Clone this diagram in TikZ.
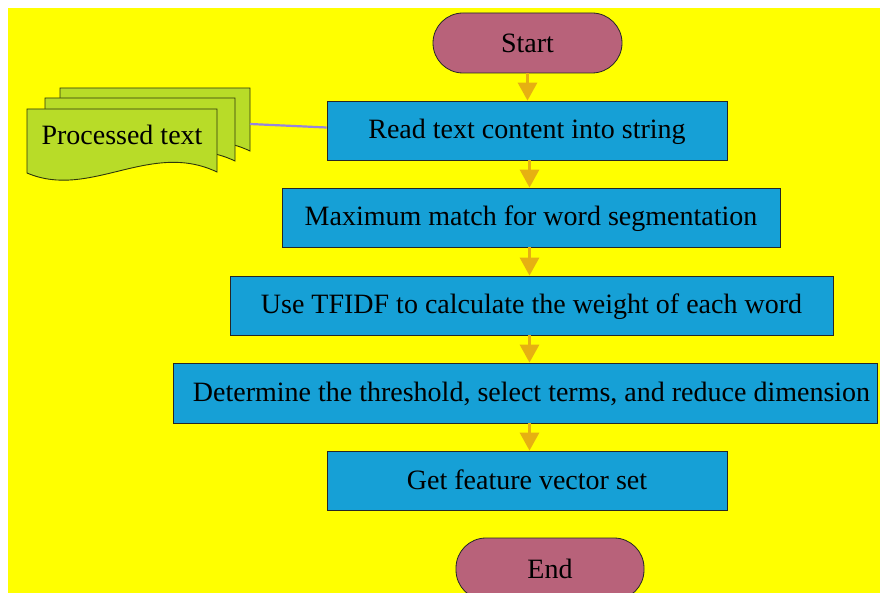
\documentclass[tikz,border=0pt]{standalone}
\usepackage{fontspec}
\setmainfont{Liberation Serif}
\usetikzlibrary{calc,arrows.meta}

\definecolor{bgyellow}{RGB}{255,255,0}
\definecolor{procblue}{RGB}{22,160,214}
\definecolor{termrose}{RGB}{184,98,122}
\definecolor{docgreen}{RGB}{184,220,40}
\definecolor{flowamber}{RGB}{230,176,18}
\definecolor{linkviolet}{RGB}{150,132,222}

\tikzset{
  procbox/.style={draw=black!85, line width=0.8pt, fill=procblue, inner sep=0pt,
    text height=19pt, text depth=2pt, font=\fontsize{28}{32}\selectfont},
  terminal/.style={draw=black!85, line width=0.8pt, fill=termrose, inner sep=0pt,
    rounded corners=30pt, font=\fontsize{28}{32}\selectfont},
  flow/.style={draw=flowamber, line width=3pt,
    -{Triangle[length=18pt,width=19pt,fill=flowamber]}},
  page/.style={draw=black!75!docgreen, line width=0.9pt, fill=docgreen},
  link/.style={draw=linkviolet, line width=2.2pt}
}

\begin{document}
\begin{tikzpicture}[x=1pt,y=-1pt]
  \useasboundingbox (0,0) rectangle (880,593);
  \clip (0,0) rectangle (880,593);
  \fill[bgyellow] (8,8) rectangle (880,593);

  % stacked document pages, back to front
  \foreach \dx/\dy in {33/-21, 18/-11, 0/0} {
    \path[page, shift={(\dx,\dy)}]
      (27,109) -- (217,109) -- (217,172)
      .. controls (150,140) and (90,200) .. (27,173) -- cycle;
  }
  \node[font=\fontsize{28}{32}\selectfont] (doc) at (122,135) {Processed text};
  \coordinate (docport) at (250,124);

  % flow steps
  \node[terminal, minimum width=189pt, minimum height=60pt] (start) at (527.5,43) {Start};
  \node[procbox, minimum width=400pt, minimum height=59pt] (read) at (527,130.5) {Read text content into string};
  \node[procbox, minimum width=498pt, minimum height=59pt] (seg) at (531,217.5) {Maximum match for word segmentation};
  \node[procbox, minimum width=603pt, minimum height=59pt] (tfidf) at (531.5,305.5) {Use TFIDF to calculate the weight of each word};
  \node[procbox, minimum width=704pt, minimum height=60pt] (thresh) at (525,393) {\hspace*{13pt}Determine the threshold, select terms, and reduce dimension};
  \node[procbox, minimum width=400pt, minimum height=59pt] (feat) at (527,480.5) {Get feature vector set};
  \node[terminal, minimum width=188pt, minimum height=62pt] (end) at (550,569) {End};

  % document link
  \draw[link] (docport) -- ([yshift=3pt]read.west);

  % arrows between steps
  \draw[flow] (start.south) -- (start.south |- read.north);
  \coordinate (axis) at ([xshift=-1.5pt]seg.north);
  \foreach \a/\b in {read/seg, seg/tfidf, tfidf/thresh, thresh/feat} {
    \draw[flow] (axis |- \a.south) -- (axis |- \b.north);
  }
\end{tikzpicture}
\end{document}
